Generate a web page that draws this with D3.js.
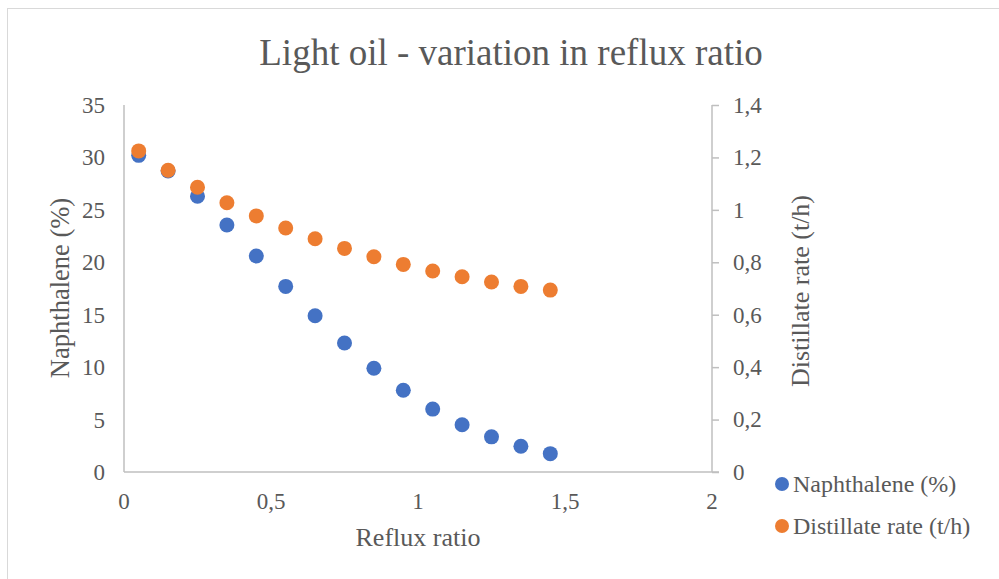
<!DOCTYPE html>
<html>
<head>
<meta charset="utf-8">
<script src="https://cdn.jsdelivr.net/npm/d3@7"></script>
<style>
  body { margin: 0; background: #fff; }
  text { font-family: "Liberation Serif", "Times New Roman", serif; fill: #595959; }
</style>
</head>
<body>
<div id="chart"></div>
<script>
// reflux ratio (x)
var refluxRatio = [0.05, 0.15, 0.25, 0.35, 0.45, 0.55, 0.65, 0.75, 0.85, 0.95, 1.05, 1.15, 1.25, 1.35, 1.45];
// Naphthalene (%) - left axis
var naphthalene = [30.2, 28.7, 26.3, 23.55, 20.6, 17.7, 14.9, 12.3, 9.9, 7.8, 6.0, 4.5, 3.35, 2.45, 1.75];
// Distillate rate (t/h) - right axis
var distillate = [1.225, 1.151, 1.086, 1.027, 0.977, 0.931, 0.890, 0.853, 0.821, 0.792, 0.767, 0.745, 0.725, 0.708, 0.694];

var xTicks = [0, 0.5, 1, 1.5, 2];
var yLeftTicks = [0, 5, 10, 15, 20, 25, 30, 35];
var yRightTicks = [0, 0.2, 0.4, 0.6, 0.8, 1, 1.2, 1.4];

var seriesNames = ["Naphthalene (%)", "Distillate rate (t/h)"];
var colors = ["#4472C4", "#ED7D31"];

var W = 999, H = 579;
var svg = d3.select("#chart").append("svg").attr("width", W).attr("height", H);

// chart border
svg.append("rect").attr("x", 7.5).attr("y", 8.5).attr("width", 1000).attr("height", 600)
  .attr("fill", "none").attr("stroke", "#d9d9d9").attr("stroke-width", 1);

var pLeft = 124, pRight = 712, pTop = 105, pBottom = 472;

var x = d3.scaleLinear().domain([0, 2]).range([pLeft, pRight]);
var yL = d3.scaleLinear().domain([0, 35]).range([pBottom, pTop]);
var yR = d3.scaleLinear().domain([0, 1.4]).range([pBottom, pTop]);

var comma = function (d) { return String(d).replace(".", ","); };

// title
svg.append("text").attr("x", 511).attr("y", 65).attr("text-anchor", "middle")
  .style("font-size", "37px").text("Light oil - variation in reflux ratio");

// axes lines
var axisColor = "#bfbfbf";
svg.append("line").attr("x1", pLeft).attr("x2", pLeft).attr("y1", pTop).attr("y2", pBottom)
  .attr("stroke", axisColor).attr("stroke-width", 1.5);
svg.append("line").attr("x1", pLeft).attr("x2", pRight + 7).attr("y1", pBottom).attr("y2", pBottom)
  .attr("stroke", axisColor).attr("stroke-width", 1.5);

// right axis
var gR = svg.append("g").attr("transform", "translate(" + pRight + ",0)")
  .call(d3.axisRight(yR).tickValues(yRightTicks).tickSize(7).tickPadding(14).tickFormat(comma));
gR.select(".domain").attr("stroke", axisColor).attr("stroke-width", 1.5).attr("d", "M0," + pTop + "V" + pBottom);
gR.selectAll(".tick line").attr("stroke", axisColor).attr("stroke-width", 1.5);
gR.selectAll("text").attr("font-size", null).attr("font-family", null)
  .style("font-size", "23px").attr("fill", "#595959");

// left tick labels
svg.append("g").selectAll("text").data(yLeftTicks).enter().append("text")
  .attr("x", 105).attr("y", function (d) { return yL(d) + 8; })
  .attr("text-anchor", "end").style("font-size", "23px").text(comma);

// x tick labels
svg.append("g").selectAll("text").data(xTicks).enter().append("text")
  .attr("x", function (d) { return x(d); }).attr("y", 509)
  .attr("text-anchor", "middle").style("font-size", "23px").text(comma);

// axis titles
svg.append("text").attr("x", 418).attr("y", 546).attr("text-anchor", "middle")
  .style("font-size", "26px").text("Reflux ratio");
svg.append("text").attr("transform", "translate(69,288) rotate(-90)").attr("text-anchor", "middle")
  .style("font-size", "26.5px").text("Naphthalene (%)");
svg.append("text").attr("transform", "translate(809,291) rotate(-90)").attr("text-anchor", "middle")
  .style("font-size", "26px").text("Distillate rate (t/h)");

// points
svg.append("g").selectAll("circle").data(refluxRatio).enter().append("circle")
  .attr("cx", function (d) { return x(d); })
  .attr("cy", function (d, i) { return yL(naphthalene[i]); })
  .attr("r", 7.5).attr("fill", colors[0]);
svg.append("g").selectAll("circle").data(refluxRatio).enter().append("circle")
  .attr("cx", function (d) { return x(d); })
  .attr("cy", function (d, i) { return yR(distillate[i]); })
  .attr("r", 7.5).attr("fill", colors[1]);

// legend
var leg = svg.append("g").selectAll("g").data(seriesNames).enter().append("g")
  .attr("transform", function (d, i) { return "translate(782," + (484 + i * 42) + ")"; });
leg.append("circle").attr("r", 7).attr("fill", function (d, i) { return colors[i]; });
leg.append("text").attr("x", 11).attr("y", 8).style("font-size", "24px").text(function (d) { return d; });
</script>
</body>
</html>
